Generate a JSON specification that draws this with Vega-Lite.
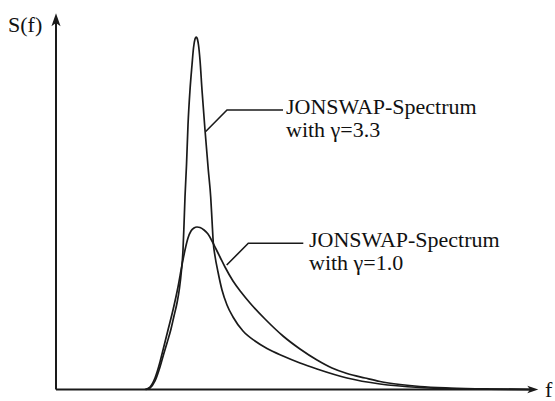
{
  "$schema": "https://vega.github.io/schema/vega-lite/v6.json",
  "width": 555,
  "height": 401,
  "padding": 0,
  "autosize": {"type": "none"},
  "background": "white",
  "config": {"view": {"stroke": null}},
  "datasets": {
    "curves": [
      {"series": "g33", "f": 90, "s": 0},
      {"series": "g33", "f": 94, "s": 1.5},
      {"series": "g33", "f": 99, "s": 8.5},
      {"series": "g33", "f": 104, "s": 22.5},
      {"series": "g33", "f": 108, "s": 36.5},
      {"series": "g33", "f": 111, "s": 46.5},
      {"series": "g33", "f": 115, "s": 60.5},
      {"series": "g33", "f": 118, "s": 73.5},
      {"series": "g33", "f": 121, "s": 86.5},
      {"series": "g33", "f": 123.5, "s": 101.5},
      {"series": "g33", "f": 125.5, "s": 119.5},
      {"series": "g33", "f": 127, "s": 139.5},
      {"series": "g33", "f": 128, "s": 164.5},
      {"series": "g33", "f": 129, "s": 192.5},
      {"series": "g33", "f": 130.5, "s": 224.5},
      {"series": "g33", "f": 132, "s": 264.5},
      {"series": "g33", "f": 134, "s": 299.5},
      {"series": "g33", "f": 136, "s": 324.5},
      {"series": "g33", "f": 137.5, "s": 341.5},
      {"series": "g33", "f": 139, "s": 350.5},
      {"series": "g33", "f": 140, "s": 352.5},
      {"series": "g33", "f": 141, "s": 351.5},
      {"series": "g33", "f": 142.5, "s": 344.5},
      {"series": "g33", "f": 144, "s": 329.5},
      {"series": "g33", "f": 146, "s": 299.5},
      {"series": "g33", "f": 149, "s": 259.5},
      {"series": "g33", "f": 152.3, "s": 219.5},
      {"series": "g33", "f": 154.7, "s": 192.5},
      {"series": "g33", "f": 156, "s": 169.5},
      {"series": "g33", "f": 157.3, "s": 146.5},
      {"series": "g33", "f": 159, "s": 133.5},
      {"series": "g33", "f": 162, "s": 117.5},
      {"series": "g33", "f": 166, "s": 99.5},
      {"series": "g33", "f": 171, "s": 84.5},
      {"series": "g33", "f": 177, "s": 72.5},
      {"series": "g33", "f": 187, "s": 58.5},
      {"series": "g33", "f": 199, "s": 48.5},
      {"series": "g33", "f": 211, "s": 41},
      {"series": "g33", "f": 227, "s": 33.5},
      {"series": "g33", "f": 244, "s": 26.5},
      {"series": "g33", "f": 261, "s": 20.5},
      {"series": "g33", "f": 291, "s": 11.5},
      {"series": "g33", "f": 324, "s": 5.5},
      {"series": "g33", "f": 364, "s": 2},
      {"series": "g33", "f": 414, "s": 0.5},
      {"series": "g33", "f": 474, "s": 0},
      {"series": "g10", "f": 89, "s": 0},
      {"series": "g10", "f": 94, "s": 2.5},
      {"series": "g10", "f": 99, "s": 11.5},
      {"series": "g10", "f": 104, "s": 27.5},
      {"series": "g10", "f": 107, "s": 39.5},
      {"series": "g10", "f": 112, "s": 59.5},
      {"series": "g10", "f": 117, "s": 79.5},
      {"series": "g10", "f": 122, "s": 102.5},
      {"series": "g10", "f": 126, "s": 124.5},
      {"series": "g10", "f": 129, "s": 139.5},
      {"series": "g10", "f": 132, "s": 151.5},
      {"series": "g10", "f": 135, "s": 158.5},
      {"series": "g10", "f": 138, "s": 161.5},
      {"series": "g10", "f": 141, "s": 162.5},
      {"series": "g10", "f": 144, "s": 162},
      {"series": "g10", "f": 148, "s": 159.5},
      {"series": "g10", "f": 152, "s": 155.5},
      {"series": "g10", "f": 156, "s": 148.5},
      {"series": "g10", "f": 160, "s": 140.5},
      {"series": "g10", "f": 164, "s": 132.5},
      {"series": "g10", "f": 169, "s": 122.5},
      {"series": "g10", "f": 177, "s": 108.5},
      {"series": "g10", "f": 185, "s": 97.5},
      {"series": "g10", "f": 194, "s": 86.5},
      {"series": "g10", "f": 209, "s": 70.5},
      {"series": "g10", "f": 227, "s": 53.5},
      {"series": "g10", "f": 244, "s": 40.5},
      {"series": "g10", "f": 261, "s": 29.5},
      {"series": "g10", "f": 276, "s": 21.5},
      {"series": "g10", "f": 291, "s": 16},
      {"series": "g10", "f": 309, "s": 11.5},
      {"series": "g10", "f": 324, "s": 8},
      {"series": "g10", "f": 344, "s": 5},
      {"series": "g10", "f": 364, "s": 3},
      {"series": "g10", "f": 394, "s": 1.5},
      {"series": "g10", "f": 434, "s": 0.5},
      {"series": "g10", "f": 474, "s": 0}
    ],
    "leaders": [
      {"id": "a", "k": 1, "f": 149.7, "s": 258},
      {"id": "a", "k": 2, "f": 171, "s": 279.5},
      {"id": "a", "k": 3, "f": 227, "s": 279.5},
      {"id": "b", "k": 1, "f": 170.7, "s": 124.5},
      {"id": "b", "k": 2, "f": 192.3, "s": 146.2},
      {"id": "b", "k": 3, "f": 247.3, "s": 146.2}
    ],
    "axes": [
      {"f": 0, "s": 0, "f2": 478, "s2": 0},
      {"f": 0, "s": 0, "f2": 0, "s2": 372}
    ],
    "labels": [
      {"f": 230, "s": 275.5, "t": "JONSWAP-Spectrum"},
      {"f": 230, "s": 252.8, "t": "with γ=3.3"},
      {"f": 253, "s": 142.5, "t": "JONSWAP-Spectrum"},
      {"f": 253, "s": 119.8, "t": "with γ=1.0"},
      {"f": -48, "s": 357.5, "t": "S(f)"},
      {"f": 489, "s": -7.5, "t": "f"}
    ]
  },
  "layer": [
    {
      "data": {"name": "axes"},
      "mark": {"type": "rule", "color": "#1a1a1a", "strokeWidth": 2},
      "encoding": {
        "x": {"field": "f", "type": "quantitative", "scale": {"domain": [-56, 499], "zero": false, "nice": false}, "axis": null},
        "y": {"field": "s", "type": "quantitative", "scale": {"domain": [-11.5, 389.5], "zero": false, "nice": false}, "axis": null},
        "x2": {"field": "f2"},
        "y2": {"field": "s2"}
      }
    },
    {
      "data": {"values": [{"f": 0, "s": 369.8}]},
      "mark": {"type": "point", "shape": "M0,-1L0.7,1L0,0.5L-0.7,1Z", "size": 169, "filled": true, "color": "#1a1a1a", "opacity": 1, "strokeWidth": 0},
      "encoding": {
        "x": {"field": "f", "type": "quantitative", "scale": {"domain": [-56, 499], "zero": false, "nice": false}, "axis": null},
        "y": {"field": "s", "type": "quantitative", "scale": {"domain": [-11.5, 389.5], "zero": false, "nice": false}, "axis": null}
      }
    },
    {
      "data": {"values": [{"f": 476.8, "s": 0}]},
      "mark": {"type": "point", "shape": "M1,0L-1,0.7L-0.5,0L-1,-0.7Z", "size": 121, "filled": true, "color": "#1a1a1a", "opacity": 1, "strokeWidth": 0},
      "encoding": {
        "x": {"field": "f", "type": "quantitative", "scale": {"domain": [-56, 499], "zero": false, "nice": false}, "axis": null},
        "y": {"field": "s", "type": "quantitative", "scale": {"domain": [-11.5, 389.5], "zero": false, "nice": false}, "axis": null}
      }
    },
    {
      "data": {"name": "curves"},
      "mark": {"type": "line", "interpolate": "monotone", "color": "#1a1a1a", "strokeWidth": 1.7},
      "encoding": {
        "x": {"field": "f", "type": "quantitative", "scale": {"domain": [-56, 499], "zero": false, "nice": false}, "axis": null},
        "y": {"field": "s", "type": "quantitative", "scale": {"domain": [-11.5, 389.5], "zero": false, "nice": false}, "axis": null},
        "detail": {"field": "series", "type": "nominal"}
      }
    },
    {
      "data": {"name": "leaders"},
      "mark": {"type": "line", "interpolate": "linear", "color": "#1a1a1a", "strokeWidth": 1.6},
      "encoding": {
        "x": {"field": "f", "type": "quantitative", "scale": {"domain": [-56, 499], "zero": false, "nice": false}, "axis": null},
        "y": {"field": "s", "type": "quantitative", "scale": {"domain": [-11.5, 389.5], "zero": false, "nice": false}, "axis": null},
        "detail": {"field": "id", "type": "nominal"},
        "order": {"field": "k", "type": "quantitative"}
      }
    },
    {
      "data": {"name": "labels"},
      "mark": {"type": "text", "align": "left", "baseline": "alphabetic", "font": "Liberation Serif", "fontSize": 22, "color": "#111111"},
      "encoding": {
        "x": {"field": "f", "type": "quantitative", "scale": {"domain": [-56, 499], "zero": false, "nice": false}, "axis": null},
        "y": {"field": "s", "type": "quantitative", "scale": {"domain": [-11.5, 389.5], "zero": false, "nice": false}, "axis": null},
        "text": {"field": "t", "type": "nominal"}
      }
    }
  ]
}
